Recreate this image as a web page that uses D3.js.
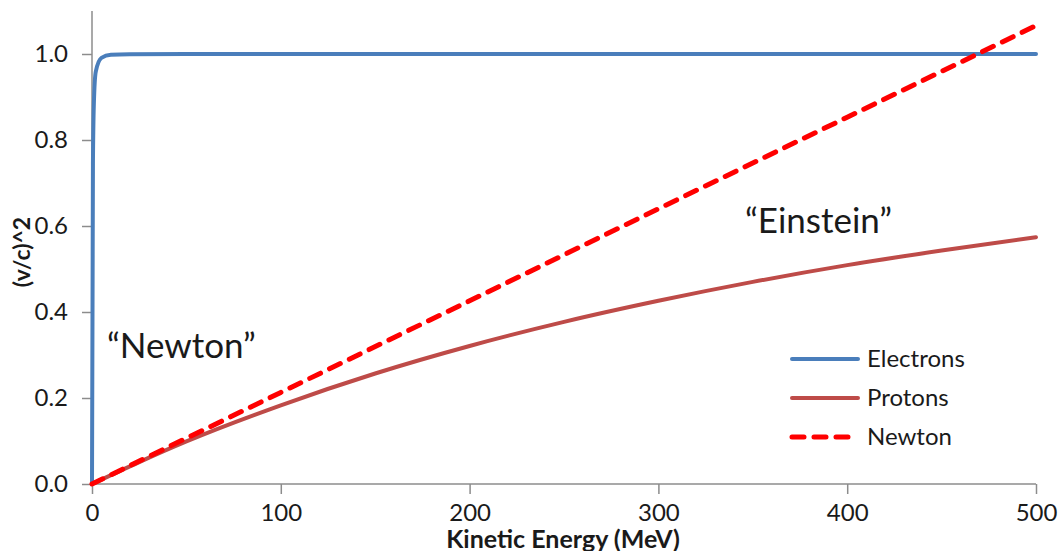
<!DOCTYPE html>
<html>
<head>
<meta charset="utf-8">
<script src="https://cdn.jsdelivr.net/npm/d3@7"></script>
<style>
  body { margin: 0; background: #fff; }
  text { font-family: Lato, "Open Sans", sans-serif; fill: #1a1a1a; }
</style>
</head>
<body>
<div id="chart"></div>
<script>
// kinetic energy (MeV) and (v/c)^2
var electronKE = [0, 0.5, 1, 2, 5, 10, 20, 50, 100, 200, 300, 400, 500];
var electronV2 = [0, 0.744, 0.886, 0.959, 0.991, 0.998, 0.9994, 0.9999, 1, 1, 1, 1, 1];

var protonKE = [0, 25, 50, 100, 150, 200, 250, 300, 350, 400, 450, 500];
var protonV2 = [0, 0.051, 0.099, 0.183, 0.257, 0.321, 0.377, 0.426, 0.470, 0.509, 0.543, 0.574];

var newtonKE = [0, 100, 200, 300, 400, 500];
var newtonV2 = [0, 0.213, 0.426, 0.640, 0.853, 1.066];

var xTicks = [0, 100, 200, 300, 400, 500];
var yTicks = [0, 0.2, 0.4, 0.6, 0.8, 1.0];

var seriesNames = ["Electrons", "Protons", "Newton"];
var seriesColors = ["#4a7ebb", "#be4b48", "#ff0000"];

var svgWidth = 1060;
var svgHeight = 551;

var margin = { top: 11, right: 24, bottom: 67, left: 92 };
var width = svgWidth - margin.left - margin.right;
var height = svgHeight - margin.top - margin.bottom;

var svg = d3.select("#chart")
  .append("svg")
  .attr("width", svgWidth)
  .attr("height", svgHeight);

var chartGroup = svg.append("g")
  .attr("transform", `translate(${margin.left}, ${margin.top})`);

var xScale = d3.scaleLinear().domain([0, 500]).range([0, width]);
var yScale = d3.scaleLinear().domain([0, 1.1]).range([height, 0]);

var axisColor = "#8c8c8c";

// axes
var bottomAxis = d3.axisBottom(xScale).tickValues(xTicks).tickSize(10).tickPadding(10)
  .tickFormat(d3.format("d"));
var leftAxis = d3.axisLeft(yScale).tickValues(yTicks).tickSize(10).tickPadding(14)
  .tickFormat(d3.format(".1f"));

var xAxis = chartGroup.append("g")
  .attr("transform", `translate(0, ${height})`)
  .call(bottomAxis);
var yAxis = chartGroup.append("g").call(leftAxis);

[xAxis, yAxis].forEach(function(ax) {
  ax.select(".domain").attr("stroke", axisColor).attr("stroke-width", 1.5);
  ax.selectAll(".tick line").attr("stroke", axisColor).attr("stroke-width", 1.5);
  ax.selectAll(".tick text")
    .attr("fill", "#1a1a1a")
    .style("font-family", "Lato, sans-serif")
    .style("font-size", "24px");
});
// axis domain without outer ticks
xAxis.select(".domain").attr("d", `M0,0H${width}`);
yAxis.select(".domain").attr("d", `M0,${height}V0`);

function lineFor(xs, ys, curve) {
  var pts = xs.map((x, i) => [x, ys[i]]);
  return d3.line()
    .x(d => xScale(d[0]))
    .y(d => yScale(d[1]))
    .curve(curve)(pts);
}

chartGroup.append("path")
  .attr("d", lineFor(protonKE, protonV2, d3.curveMonotoneX))
  .attr("fill", "none")
  .attr("stroke", seriesColors[1])
  .attr("stroke-width", 4)
  .attr("stroke-linecap", "round");

chartGroup.append("path")
  .attr("d", lineFor(electronKE, electronV2, d3.curveMonotoneX))
  .attr("fill", "none")
  .attr("stroke", seriesColors[0])
  .attr("stroke-width", 4)
  .attr("stroke-linecap", "round");

chartGroup.append("path")
  .attr("d", lineFor(newtonKE, newtonV2, d3.curveLinear))
  .attr("fill", "none")
  .attr("stroke", seriesColors[2])
  .attr("stroke-width", 5)
  .attr("stroke-dasharray", "12,10")
  .attr("stroke-linecap", "round");

// annotations
svg.append("text")
  .attr("x", 107)
  .attr("y", 358)
  .style("font-size", "35px")
  .text("\u201CNewton\u201D");

svg.append("text")
  .attr("x", 745)
  .attr("y", 233)
  .style("font-size", "35px")
  .text("\u201CEinstein\u201D");

// legend
var legendY = [359, 398, 437];
var legend = svg.append("g");
seriesNames.forEach(function(name, i) {
  legend.append("line")
    .attr("x1", 792).attr("x2", 858)
    .attr("y1", legendY[i]).attr("y2", legendY[i])
    .attr("stroke", seriesColors[i])
    .attr("stroke-width", i == 2 ? 5 : 4)
    .attr("stroke-linecap", "round")
    .attr("stroke-dasharray", i == 2 ? "12,10" : null);
  legend.append("text")
    .attr("x", 867)
    .attr("y", legendY[i])
    .attr("dy", "0.35em")
    .style("font-size", "24px")
    .text(name);
});

// axis titles
svg.append("text")
  .attr("x", 563)
  .attr("y", 548)
  .attr("text-anchor", "middle")
  .style("font-size", "25px")
  .style("font-weight", "bold")
  .text("Kinetic Energy (MeV)");

svg.append("text")
  .attr("transform", "translate(30, 252) rotate(-90)")
  .attr("text-anchor", "middle")
  .style("font-size", "23px")
  .style("font-weight", "bold")
  .text("(v/c)^2");
</script>
</body>
</html>
